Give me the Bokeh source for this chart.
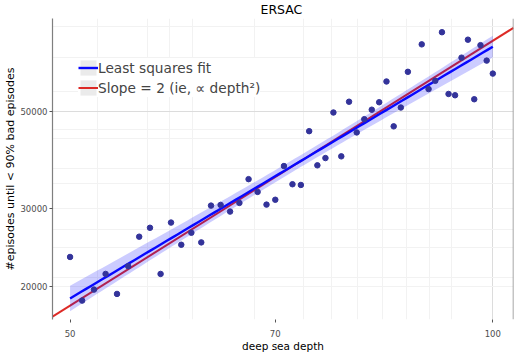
import numpy as np
from bokeh.plotting import figure
from bokeh.models import (Range1d, FixedTicker, Legend, LegendItem, Span,
                          NumeralTickFormatter)
from bokeh.embed import file_html
from bokeh.resources import INLINE

# ---- data ----
depth = [50, 51, 52, 53, 54, 55, 56, 57, 58, 59, 60, 61, 62, 63, 64, 65, 66, 67,
         68, 69, 70, 71, 72, 73, 74, 75, 76, 77, 78, 79, 80, 81, 82, 83, 84, 85,
         86, 87, 89, 90, 91, 92, 93, 94, 95, 96, 97, 98, 99, 100]
episodes = [23320, 18560, 19660, 21340, 19220, 22220, 25930, 27170, 21340, 27920,
            24860, 26470, 25170, 30510, 30620, 29570, 30940, 35040, 32780, 30670,
            31460, 37530, 34120, 33990, 45040, 37670, 39130, 49660, 39480, 52540,
            44740, 47960, 50390, 52400, 58410, 46190, 50970, 61440, 70930, 56140,
            58620, 75590, 54720, 54350, 66170, 72690, 53230, 70640, 65150, 60870]

x_ticks = [50, 70, 100]
y_ticks = [20000, 30000, 50000]
x_major_grid = [100]
x_minor_grid = [52.3, 56.8, 58.9, 61.1, 67.7, 73.3, 76.8, 80.1, 83.5, 86.8, 90.1, 93.4]
y_major_grid = [50000]
y_minor_grid = [20000, 21000, 24500, 26900, 30000, 34300, 37000, 43400, 45500,
                55500, 66300, 78000]

title_text = "ERSAC"
x_label = "deep sea depth"
y_label = "#episodes until < 90% bad episodes"
fit_label = "Least squares fit"
ref_label = "Slope = 2 (ie, \u221d depth\u00b2)"

x_view = (48.58, 103.45)
y_view = (16813, 81213)
T95 = 2.0106  # t quantile, df = 48

# ---- fits in log-log space ----
lx = np.log10(np.array(depth, dtype=float))
ly = np.log10(np.array(episodes, dtype=float))
n = len(lx)
b, a = np.polyfit(lx, ly, 1)
resid = ly - (a + b * lx)
s = np.sqrt(np.sum(resid ** 2) / (n - 2))
xm = lx.mean()
sxx = np.sum((lx - xm) ** 2)
xs = np.linspace(lx.min(), lx.max(), 80)
fit = a + b * xs
se = s * np.sqrt(1.0 / n + (xs - xm) ** 2 / sxx)
fit_x = 10 ** xs
fit_y = 10 ** fit
band_lo = 10 ** (fit - T95 * se)
band_hi = 10 ** (fit + T95 * se)

k2 = np.mean(ly - 2 * lx)
ref_x = np.array(x_view)
ref_y = 10 ** (k2 + 2 * np.log10(ref_x))

FONT = "DejaVu Sans"

p = figure(width=514, height=354, x_axis_type="log", y_axis_type="log",
           x_range=Range1d(*x_view), y_range=Range1d(*y_view),
           output_backend="svg", toolbar_location=None, title=title_text,
           min_border_left=52, min_border_right=1, min_border_top=18,
           min_border_bottom=34, outline_line_color=None,
           background_fill_color="white", border_fill_color="white")

p.title.align = "left"
p.title.offset = 208
p.title.standoff = 0
p.title.vertical_align = "top"
p.title.text_font = FONT
p.title.text_font_size = "12.5px"
p.title.text_font_style = "normal"
p.title.text_color = "black"

# grid
p.xgrid.ticker = FixedTicker(ticks=x_major_grid, minor_ticks=x_minor_grid)
p.ygrid.ticker = FixedTicker(ticks=y_major_grid, minor_ticks=y_minor_grid)
for g in (p.xgrid, p.ygrid):
    g.grid_line_color = "#dcdcdc"
    g.grid_line_width = 1
    g.minor_grid_line_color = "#f2f2f2"
    g.minor_grid_line_width = 1

# axes
p.xaxis.ticker = FixedTicker(ticks=x_ticks, minor_ticks=[])
p.yaxis.ticker = FixedTicker(ticks=y_ticks, minor_ticks=[])
p.xaxis.formatter = NumeralTickFormatter(format="0")
p.yaxis.formatter = NumeralTickFormatter(format="0")
for ax in (p.xaxis, p.yaxis):
    ax.major_label_text_font = FONT
    ax.major_label_text_font_size = "8.5px"
    ax.major_label_text_color = "#4d4d4d"
    ax.major_tick_in = 0
    ax.major_tick_out = 3
    ax.minor_tick_line_color = None
    ax.major_tick_line_color = "#555555"
    ax.axis_label_text_font = FONT
    ax.axis_label_text_font_style = "normal"
    ax.axis_label_text_color = "black"
    ax.axis_label_standoff = 0
p.xaxis.major_label_standoff = 7
p.yaxis.major_label_standoff = 2
p.xaxis.axis_line_color = None
p.yaxis.axis_line_color = "#7f7f7f"
p.yaxis.axis_line_width = 1.2
p.xaxis.axis_label = x_label
p.xaxis.axis_label_text_font_size = "10.5px"
p.yaxis.axis_label = y_label
p.yaxis.axis_label_text_font_size = "11px"

p.add_layout(Span(location=x_view[1], dimension="height", line_color="#8a8a8a",
                  line_width=1.5))

# glyphs
key_bg = p.varea(x=fit_x, y1=band_lo, y2=band_lo, fill_color="#ebebeb")
red = p.line(ref_x, ref_y, line_color="#dd2a26", line_width=2)
band = p.varea(x=fit_x, y1=band_lo, y2=band_hi, fill_color="#0000ff", fill_alpha=0.2)
blue = p.line(fit_x, fit_y, line_color="#0808ff", line_width=2.4)
p.scatter(depth, episodes, size=5.5, fill_color="#33339a", line_color="#33339a")

legend = Legend(items=[LegendItem(label=fit_label, renderers=[key_bg, blue]),
                       LegendItem(label=ref_label, renderers=[key_bg, red])],
                location=(26, 222), margin=0, padding=8, spacing=1,
                glyph_width=20, glyph_height=19, label_height=19,
                label_standoff=0, label_text_font=FONT,
                label_text_font_size="13.7px", label_text_baseline="middle",
                background_fill_color="white", background_fill_alpha=1.0,
                border_line_color=None)
p.add_layout(legend)

open("out.html", "w").write(file_html(p, INLINE))
